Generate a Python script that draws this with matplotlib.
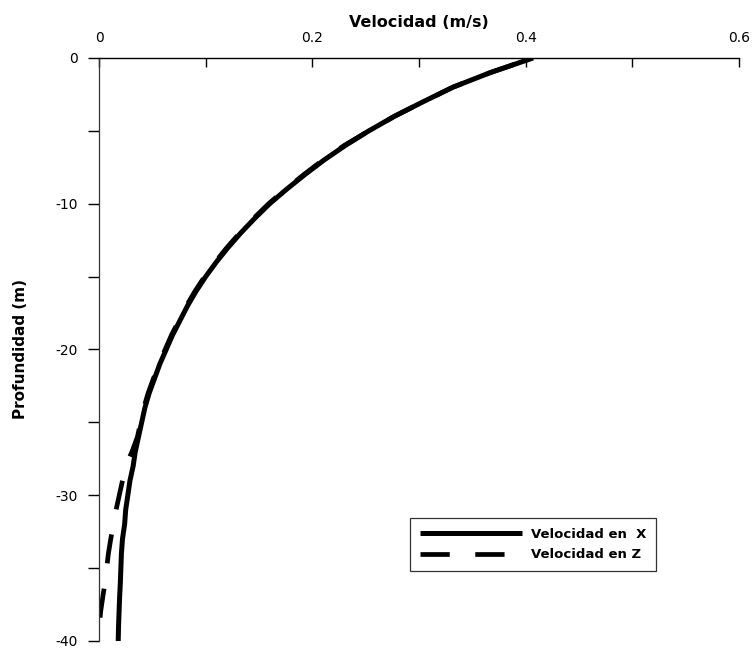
import matplotlib
matplotlib.use("Agg")
import matplotlib.pyplot as plt
from matplotlib.ticker import MultipleLocator

# Velocity profiles against depth
depth_x = [0, -1, -2, -3, -4, -5, -6, -7, -8, -9, -10, -11, -12, -13, -14,
           -15, -16, -17, -18, -19, -20, -21, -22, -23, -24, -25, -26, -27,
           -28, -29, -30, -31, -32, -33, -34, -35, -36, -37, -38, -39, -40]
vel_x = [0.407, 0.367, 0.332, 0.304, 0.277, 0.253, 0.231, 0.211, 0.193,
         0.176, 0.160, 0.146, 0.133, 0.121, 0.110, 0.100, 0.091, 0.083,
         0.076, 0.069, 0.063, 0.057, 0.052, 0.047, 0.043, 0.040, 0.037,
         0.034, 0.032, 0.029, 0.027, 0.025, 0.024, 0.022, 0.021, 0.0205,
         0.020, 0.0193, 0.0188, 0.0183, 0.018]

depth_z = [0, -1, -2, -3, -4, -5, -6, -7, -8, -9, -10, -11, -12, -13, -14,
           -15, -16, -17, -18, -19, -20, -21, -22, -23, -24, -25, -26, -27,
           -28, -29, -30, -31, -32, -33, -34, -35, -36, -37, -38, -38.4]
vel_z = [0.407, 0.367, 0.332, 0.304, 0.277, 0.253, 0.230, 0.210, 0.192,
         0.175, 0.159, 0.145, 0.132, 0.120, 0.109, 0.099, 0.090, 0.082,
         0.075, 0.068, 0.062, 0.056, 0.051, 0.046, 0.042, 0.039, 0.036,
         0.031, 0.025, 0.022, 0.019, 0.016, 0.0135, 0.011, 0.0088, 0.0072,
         0.0056, 0.0035, 0.0015, 0.001]

x_ticks = [0, 0.2, 0.4, 0.6]
x_tick_labels = ["0", "0.2", "0.4", "0.6"]
y_ticks = [0, -10, -20, -30, -40]
y_tick_labels = ["0", "-10", "-20", "-30", "-40"]

label_x = "Velocidad en  X"
label_z = "Velocidad en Z"

plt.rcParams["font.family"] = ["DejaVu Sans"]

fig = plt.figure(figsize=(7.53, 6.52), dpi=100)
ax = fig.add_axes([0.1315, 0.0169, 0.8499, 0.8942])

ax.plot(vel_x, depth_x, color="black", lw=3.6, solid_capstyle="butt",
        solid_joinstyle="round", label=label_x)
# dashed profile drawn from the bottom up so the dash pattern starts at depth
ax.plot(vel_z[::-1], depth_z[::-1], color="black", lw=3.4,
        dashes=(6.2, 5.4), dash_capstyle="butt", label=label_z)

ax.set_xlim(0, 0.6)
ax.set_ylim(-40, 0)

ax.xaxis.set_ticks_position("top")
ax.xaxis.set_label_position("top")
ax.set_xticks(x_ticks)
ax.set_xticklabels(x_tick_labels)
ax.xaxis.set_minor_locator(MultipleLocator(0.1))
ax.set_yticks(y_ticks)
ax.set_yticklabels(y_tick_labels)
ax.yaxis.set_minor_locator(MultipleLocator(5))

ax.tick_params(axis="x", which="both", direction="in", length=6.5,
               width=1.0, pad=9, labelsize=10, top=True, bottom=False)
ax.tick_params(axis="y", which="both", direction="out", length=8,
               width=1.0, pad=7, labelsize=10, left=True, right=False)

ax.set_xlabel("Velocidad (m/s)", fontsize=11.5, fontweight="bold", labelpad=3)
ax.set_ylabel("Profundidad (m)", fontsize=11, fontweight="bold", labelpad=20)

for side in ("right", "bottom"):
    ax.spines[side].set_visible(False)
ax.spines["top"].set_linewidth(1.0)
ax.spines["left"].set_linewidth(0.9)
ax.spines["left"].set_color("#333333")

leg = ax.legend(loc="upper left", bbox_to_anchor=(0.5445, 0.2055),
                bbox_transform=fig.transFigure, frameon=True, fancybox=False,
                edgecolor="black", handlelength=7.7, handletextpad=0.7,
                borderpad=0.75, labelspacing=0.55, borderaxespad=0,
                prop={"weight": "bold", "size": 9.5})
leg.get_frame().set_linewidth(0.9)

fig.savefig("out.png", dpi=100, facecolor="white")
